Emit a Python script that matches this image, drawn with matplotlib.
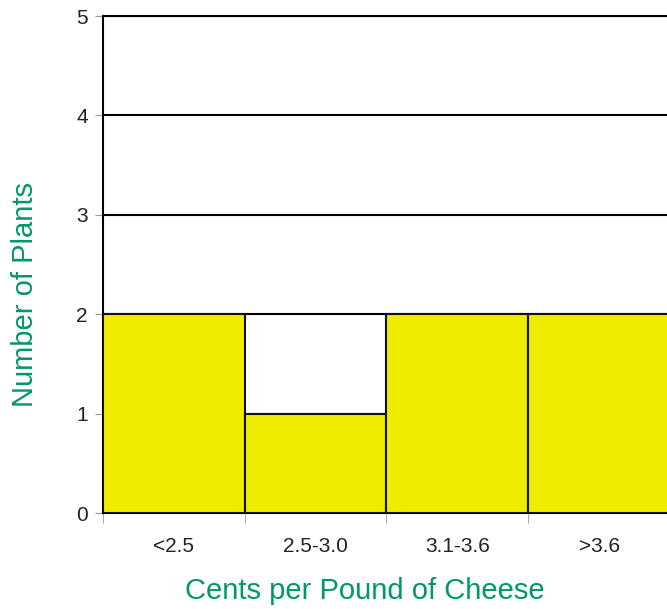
import matplotlib.pyplot as plt
import numpy as np

# data
categories = ['<2.5', '2.5-3.0', '3.1-3.6', '>3.6']
plants = [2, 1, 2, 2]
y_ticks = [0, 1, 2, 3, 4, 5]

BAR_COLOR = '#f0ec00'
LABEL_COLOR = '#00966e'

plt.rcParams['font.family'] = ['Liberation Sans', 'DejaVu Sans']

fig = plt.figure(figsize=(6.67, 6.09), dpi=100)
ax = fig.add_axes([0.1544, 0.1576, 0.8501, 0.8161])

x = np.arange(len(categories))
ax.bar(x, plants, width=1.0, color=BAR_COLOR, edgecolor='#111111',
       linewidth=1.5, zorder=3)

ax.set_xlim(-0.5, len(categories) - 0.5)
ax.set_ylim(0, 5)
ax.set_yticks(y_ticks)
ax.yaxis.grid(True, color='black', linewidth=1.5, zorder=0)
ax.set_axisbelow(True)

# labels centered under bars, ticks at bar boundaries
ax.set_xticks(x)
ax.set_xticklabels(categories, fontsize=15, color='#222222')
ax.set_xticks(np.arange(len(categories) + 1) - 0.5, minor=True)
ax.tick_params(axis='x', which='major', length=0, pad=17)
ax.tick_params(axis='x', which='minor', length=7, color='#999999')
ax.tick_params(axis='y', length=6, color='#999999', labelsize=15,
               labelcolor='#222222', pad=5)

for side in ['left', 'bottom', 'top']:
    ax.spines[side].set_color('black')
    ax.spines[side].set_linewidth(1.5)
ax.spines['right'].set_visible(False)

ax.set_xlabel('Cents per Pound of Cheese', fontsize=21, color=LABEL_COLOR)
ax.set_ylabel('Number of Plants', fontsize=21, color=LABEL_COLOR)
# the titles sit a little off the axes centre in the original
ax.xaxis.set_label_coords(0.462, -0.128)
ax.yaxis.set_label_coords(-0.113, 0.44)

fig.savefig('out.png', dpi=100)
